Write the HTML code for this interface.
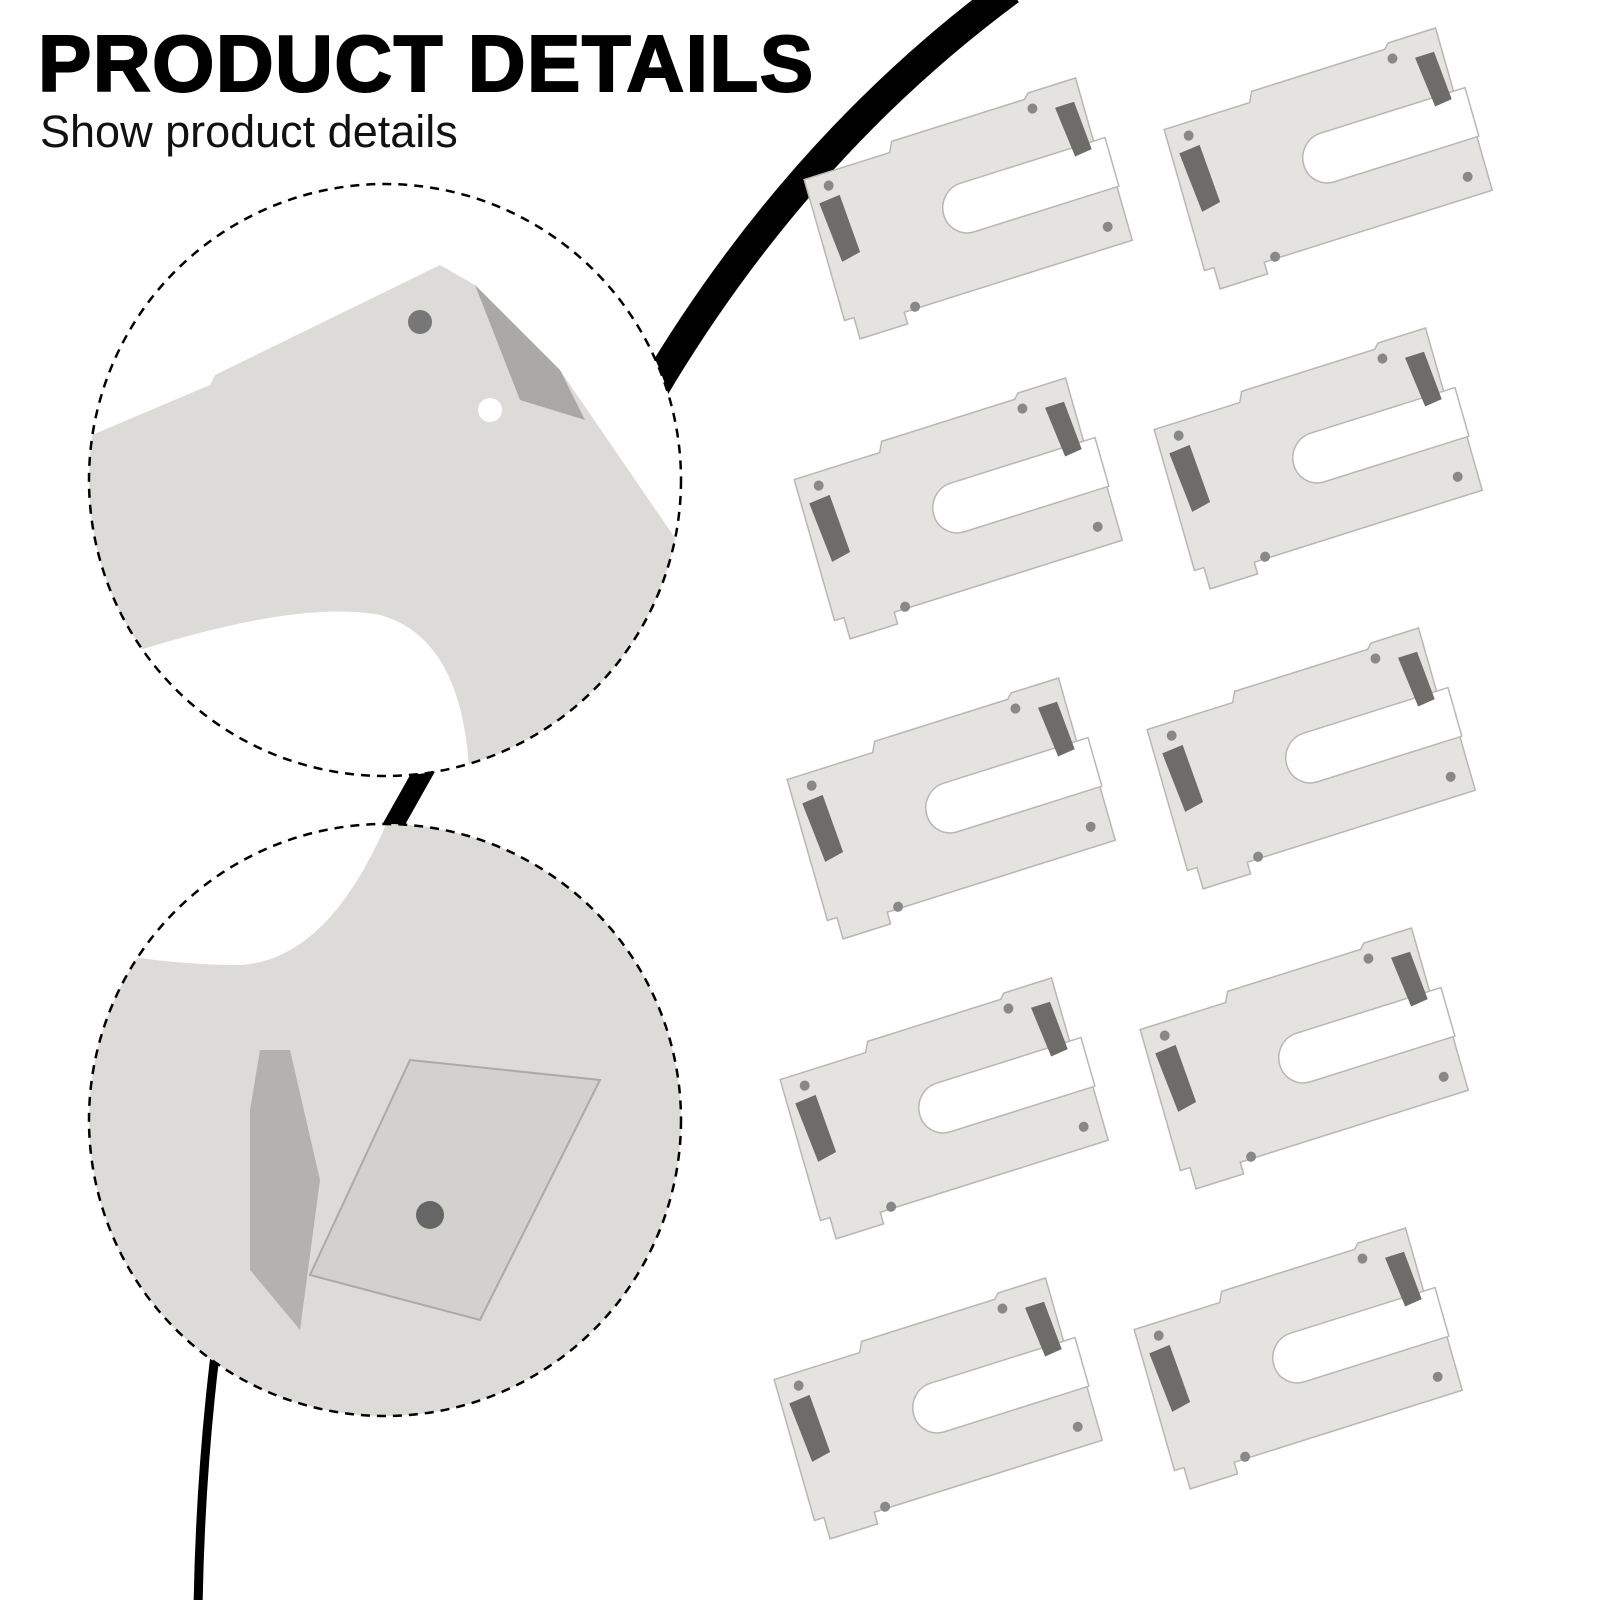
<!DOCTYPE html>
<html><head><meta charset="utf-8"><style>
html,body{margin:0;padding:0;background:#fff;}
.t{position:absolute;left:38px;top:18px;font:bold 80px "Liberation Sans",sans-serif;color:#000;letter-spacing:1.5px;margin:0;-webkit-text-stroke:2px #000}
.s{position:absolute;left:40px;top:106px;font:45px "Liberation Sans",sans-serif;color:#111;margin:0}
</style></head><body>
<div style="position:relative;width:1600px;height:1600px;overflow:hidden">
<svg width="1600" height="1600" viewBox="0 0 1600 1600" style="position:absolute;left:0;top:0">
<defs>
<g id="clip">
<path d="M0,15 L90,15 L95,5 L235,5 L240,0 L290,0 L290,100 L300,100 L300,170 L60,170 L60,182 L10,182 L10,160 L0,160 Z" fill="#e4e3e0" stroke="#b8b7b3" stroke-width="1.5"/>
<path d="M302,65 L150,65 A25,25 0 0 0 150,115 L302,115 Z" fill="#fff" stroke="#b8b7b3" stroke-width="1.5"/>
<path d="M262,22 L282,22 L286,72 L268,74 Z" fill="#6d6c69"/>
<path d="M8,42 L30,40 L34,100 L14,104 Z" fill="#6d6c69"/>
<circle cx="240" cy="16" r="5" fill="#888"/>
<circle cx="22" cy="28" r="5" fill="#888"/>
<circle cx="280" cy="150" r="5" fill="#888"/>
<circle cx="72" cy="168" r="5" fill="#888"/>
</g>
<clipPath id="c1"><circle cx="385" cy="480" r="296"/></clipPath>
<clipPath id="c2"><circle cx="385" cy="1120" r="296"/></clipPath>
</defs>
<path d="M1010,-10 Q780,160 630,430" stroke="#000" stroke-width="30" fill="none"/>
<path d="M430,760 L385,840" stroke="#000" stroke-width="20" fill="none"/>
<path d="M215,1355 Q200,1480 198,1610" stroke="#000" stroke-width="9" fill="none"/>

<circle cx="385" cy="480" r="296" fill="#fff"/>
<g clip-path="url(#c1)">
<path d="M80,440 L210,385 L215,375 L440,265 L475,285 L560,370 L690,560 L690,800 L470,800 Q470,640 380,615 Q300,600 140,650 L80,665 Z" fill="#dcdbd8"/>
<path d="M475,285 L560,370 L585,420 L520,400 Z" fill="#a9a8a4"/>
<circle cx="490" cy="410" r="12" fill="#fff"/>
<circle cx="420" cy="322" r="12" fill="#777"/>
</g>
<circle cx="385" cy="480" r="296" fill="none" stroke="#000" stroke-width="2.5" stroke-dasharray="9,7"/>

<circle cx="385" cy="1120" r="296" fill="#fff"/>
<g clip-path="url(#c2)">
<path d="M390,815 L700,815 L700,1450 L80,1450 L80,955 L120,955 Q180,965 240,965 Q330,960 390,815 Z" fill="#dcdbd8"/>
<path d="M260,1050 L290,1050 L320,1180 L300,1330 L250,1270 L250,1110 Z" fill="#b3b2ae"/>
<path d="M410,1060 L600,1080 L480,1320 L310,1275 Z" fill="#d2d1cd" stroke="#aaa" stroke-width="2"/>
<circle cx="430" cy="1215" r="14" fill="#666"/>
</g>
<circle cx="385" cy="1120" r="296" fill="none" stroke="#000" stroke-width="2.5" stroke-dasharray="9,7"/>

<use href="#clip" transform="matrix(0.95,-0.30,0.278,0.972,800,165)"/>
<use href="#clip" transform="matrix(0.95,-0.30,0.278,0.972,790,465)"/>
<use href="#clip" transform="matrix(0.95,-0.30,0.278,0.972,783,765)"/>
<use href="#clip" transform="matrix(0.95,-0.30,0.278,0.972,776,1065)"/>
<use href="#clip" transform="matrix(0.95,-0.30,0.278,0.972,770,1365)"/>
<use href="#clip" transform="matrix(0.95,-0.30,0.278,0.972,1160,115)"/>
<use href="#clip" transform="matrix(0.95,-0.30,0.278,0.972,1150,415)"/>
<use href="#clip" transform="matrix(0.95,-0.30,0.278,0.972,1143,715)"/>
<use href="#clip" transform="matrix(0.95,-0.30,0.278,0.972,1136,1015)"/>
<use href="#clip" transform="matrix(0.95,-0.30,0.278,0.972,1130,1315)"/>
</svg>
<p class="t">PRODUCT DETAILS</p>
<p class="s">Show product details</p>
</div>
</body></html>
